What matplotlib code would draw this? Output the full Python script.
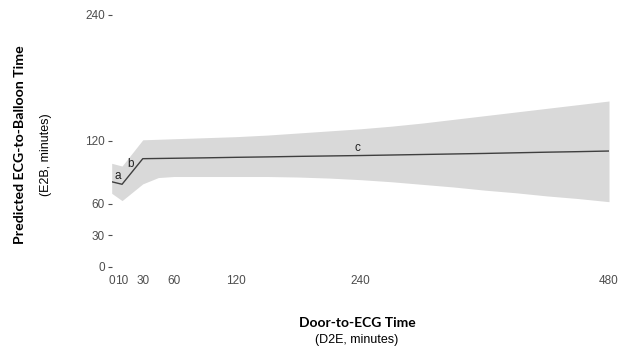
import matplotlib
matplotlib.use("Agg")
import matplotlib.pyplot as plt
import numpy as np

# Fitted spline (estimated from the figure)
d2e = [0, 10, 30, 45, 60, 90, 120, 150, 180, 210, 240, 270, 300, 330, 360, 390, 420, 450, 480]
e2b = [81, 78.6, 103, 103.2, 103.4, 103.8, 104.3, 104.7, 105.2, 105.6, 106, 106.5, 107, 107.5, 108, 108.6, 109.2, 109.7, 110.3]
upper = [98.6, 96, 121, 121.5, 122, 123, 124, 125.5, 127.5, 129.5, 131.5, 134, 137, 140.5, 144, 147.5, 151, 154.5, 158]
lower = [70, 63, 79, 85, 86, 86, 86, 86, 85.5, 84.5, 83, 81, 78.5, 76, 73, 70.5, 67.5, 65, 62]

seg_labels = ["a", "b", "c"]
seg_x = [6, 18.5, 237]
seg_y = [86.5, 98, 113]

xticks = [0, 10, 30, 60, 120, 240, 480]
yticks = [0, 30, 60, 120, 240]

fig = plt.figure(figsize=(6.3, 3.48), dpi=100)
ax = fig.add_axes([0.1773, 0.2336, 0.9667 - 0.1773, 0.9569 - 0.2336])

ax.fill_between(d2e, lower, upper, color="#d9d9d9", linewidth=0)
ax.plot(d2e, e2b, color="#3f3f3f", linewidth=1.0)

for lab, x, y in zip(seg_labels, seg_x, seg_y):
    ax.text(x, y, lab, fontsize=8.5, color="#222222", ha="center", va="center",
            family="Liberation Sans")

ax.set_xlim(0, 480)
ax.set_ylim(0, 240)
ax.set_xticks(xticks)
ax.set_xticklabels(["0", "10", "30", "60", "120", "240", "480"])
ax.set_yticks(yticks)
for s in ax.spines.values():
    s.set_visible(False)
ax.tick_params(axis="x", length=0, pad=6, labelsize=8.5, labelcolor="#4d4d4d")
ax.tick_params(axis="y", length=3, width=0.8, color="#4d4d4d", pad=2,
               labelsize=8.5, labelcolor="#4d4d4d")
for t in ax.get_xticklabels() + ax.get_yticklabels():
    t.set_family("Liberation Sans")

fig.text(357 / 630, 1 - 323 / 348, "Door-to-ECG Time", ha="center", va="center",
         fontsize=10, fontweight="bold", family="Lato")
fig.text(357 / 630, 1 - 340 / 348, "(D2E, minutes)", ha="center", va="center",
         fontsize=9, family="Liberation Sans")
fig.text(20 / 630, 1 - 145 / 348, "Predicted ECG-to-Balloon Time", ha="center", va="center",
         rotation=90, fontsize=10.2, fontweight="bold", family="Lato")
fig.text(46 / 630, 1 - 155 / 348, "(E2B, minutes)", ha="center", va="center",
         rotation=90, fontsize=9, family="Liberation Sans")

fig.savefig("out.png", dpi=100)
